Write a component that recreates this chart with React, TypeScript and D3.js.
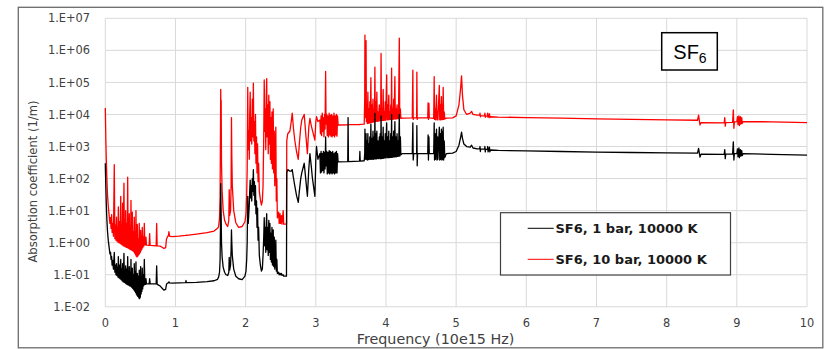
import React from 'react';
import * as d3 from 'd3';

// Axis ticks
const frequencyTicks = [0, 1, 2, 3, 4, 5, 6, 7, 8, 9, 10];
const absorptionTicks = [1e-2, 1e-1, 1e0, 1e1, 1e2, 1e3, 1e4, 1e5, 1e6, 1e7];
const absorptionTickLabels = ['1.E-02', '1.E-01', '1.E+00', '1.E+01', '1.E+02', '1.E+03', '1.E+04', '1.E+05', '1.E+06', '1.E+07'];

const seriesNames = ['SF6, 1 bar, 10000 K', 'SF6, 10 bar, 10000 K'];
const seriesColors = ['#000000', '#ff0000'];

// Spectrum rows: [frequency (10e15 Hz), absorption at 1 bar (1/m), absorption at 10 bar (1/m)]
const infraredDecay: number[][] = [
  [0.000, 300, 16000], [0.004, 120, 5000], [0.008, 50, 1500], [0.013, 20, 500],
  [0.018, 9, 200], [0.024, 4.5, 80], [0.032, 2.2, 30], [0.042, 1.2, 14],
  [0.055, 0.7, 7], [0.066, 0.45, 4],
  [0.075, 0.5, 6], [0.082, 0.3, 2.8], [0.090, 0.37, 7.5], [0.097, 0.2, 2.1],
  [0.105, 0.28, 4], [0.116, 0.15, 1.6], [0.128, 0.5, 270], [0.136, 0.12, 1.35],
  [0.145, 0.2, 3.5], [0.152, 0.1, 1.2], [0.160, 0.22, 6.3], [0.166, 0.095, 1.12],
  [0.173, 0.17, 3], [0.180, 0.085, 1.05], [0.186, 0.37, 13], [0.195, 0.08, 1.0],
  [0.203, 0.2, 4.5], [0.211, 0.075, 0.95], [0.220, 0.3, 28], [0.227, 0.07, 0.9],
  [0.234, 0.15, 3.5], [0.240, 0.065, 0.85], [0.247, 0.22, 17], [0.256, 0.06, 0.8],
  [0.266, 0.46, 72], [0.272, 0.058, 0.78], [0.279, 0.13, 3], [0.285, 0.055, 0.75],
  [0.290, 0.19, 10], [0.297, 0.052, 0.72], [0.305, 0.15, 4], [0.312, 0.05, 0.7],
  [0.319, 0.37, 110], [0.325, 0.048, 0.68], [0.331, 0.12, 3], [0.337, 0.047, 0.66],
  [0.342, 0.18, 8], [0.348, 0.045, 0.63], [0.354, 0.12, 2.5], [0.360, 0.044, 0.61],
  [0.366, 0.3, 21], [0.371, 0.042, 0.6], [0.376, 0.12, 3], [0.381, 0.04, 0.58],
  [0.385, 0.16, 9], [0.392, 0.037, 0.56], [0.399, 0.1, 2.2], [0.406, 0.034, 0.52],
  [0.413, 0.22, 6.3], [0.419, 0.031, 0.47], [0.425, 0.12, 2], [0.431, 0.028, 0.42],
  [0.437, 0.25, 10], [0.442, 0.025, 0.38], [0.447, 0.08, 1.4], [0.451, 0.023, 0.36],
  [0.456, 0.11, 3.7], [0.463, 0.021, 0.38], [0.470, 0.09, 1.3], [0.477, 0.019, 0.42],
  [0.484, 0.14, 4], [0.489, 0.018, 0.46], [0.494, 0.07, 1.5], [0.499, 0.02, 0.5],
  [0.504, 0.18, 2.4], [0.510, 0.025, 0.56], [0.516, 0.08, 1.6], [0.521, 0.03, 0.62],
  [0.527, 0.16, 3], [0.533, 0.036, 0.7], [0.540, 0.1, 1.5], [0.548, 0.045, 0.78],
  [0.556, 0.3, 4], [0.564, 0.05, 0.85],
];

const visibleWindow: number[][] = [
  [0.575, 0.05, 0.85], [0.580, 0.075, 1.5], [0.586, 0.052, 0.84], [0.625, 0.052, 0.83],
  [0.632, 0.075, 1.9], [0.639, 0.052, 0.82], [0.725, 0.052, 0.8], [0.732, 0.19, 4],
  [0.739, 0.05, 0.8], [0.780, 0.045, 0.78], [0.810, 0.038, 0.72], [0.835, 0.033, 0.66],
  [0.860, 0.035, 0.7], [0.872, 0.05, 1.3], [0.885, 0.055, 1.5], [0.900, 0.056, 1.7],
  [0.907, 0.06, 2.2], [0.915, 0.056, 1.6], [0.950, 0.055, 1.55], [1.050, 0.056, 1.6],
  [1.145, 0.057, 1.7], [1.150, 0.066, 1.72], [1.155, 0.057, 1.7], [1.300, 0.058, 1.85],
  [1.450, 0.061, 2.05], [1.550, 0.065, 2.3], [1.600, 0.072, 2.8],
];

const firstLines: number[][] = [
  [1.615, 0.085, 3.2], [1.628, 0.12, 6], [1.636, 0.3, 30], [1.641, 3, 2000],
  [1.645, 70, 60000], [1.648, 20, 8000], [1.651, 8, 28000], [1.656, 1.0, 300],
  [1.665, 0.35, 40], [1.680, 0.17, 10], [1.700, 0.12, 5], [1.720, 0.1, 3.8],
  [1.745, 0.095, 3.2], [1.760, 0.12, 5], [1.766, 0.35, 45], [1.772, 0.14, 7],
  [1.785, 0.2, 10], [1.793, 0.6, 60], [1.798, 2.5, 8000], [1.803, 1.0, 500],
  [1.810, 0.4, 60], [1.830, 0.15, 10], [1.860, 0.09, 4.2], [1.900, 0.075, 3.0],
  [1.950, 0.07, 3.2], [1.990, 0.09, 4.5], [2.005, 0.13, 8], [2.015, 0.3, 30],
];

const lineClusters: number[][] = [
  [2.022, 1, 200], [2.030, 28, 70000], [2.037, 4, 800], [2.045, 8, 3000],
  [2.052, 15, 400], [2.058, 40, 10000], [2.065, 90, 50000], [2.072, 25, 1500],
  [2.080, 60, 8000], [2.087, 20, 1200], [2.095, 100, 30000], [2.102, 40, 2000],
  [2.110, 190, 95000], [2.117, 30, 1500], [2.125, 80, 6000], [2.132, 15, 600],
  [2.140, 60, 10000], [2.147, 8, 300], [2.155, 20, 2000], [2.162, 3, 150],
  [2.170, 12, 1200], [2.177, 1.2, 80], [2.185, 3, 300], [2.195, 0.4, 40],
  [2.210, 0.2, 22], [2.225, 0.13, 15], [2.238, 0.15, 20], [2.248, 0.4, 60],
  [2.258, 1.5, 2000], [2.265, 6, 120000], [2.272, 0.8, 3000], [2.280, 3, 15000],
  [2.287, 0.5, 800], [2.294, 4, 40000], [2.300, 8, 130000], [2.307, 0.6, 2000],
  [2.315, 3, 20000], [2.322, 0.4, 600], [2.330, 5, 40000], [2.337, 0.5, 1200],
  [2.346, 4, 25000], [2.353, 0.3, 400], [2.360, 2, 8000], [2.367, 0.25, 300],
  [2.375, 3, 12000], [2.382, 0.2, 200], [2.393, 2.5, 15000], [2.400, 0.18, 150],
  [2.408, 1.5, 3000], [2.415, 0.15, 60], [2.430, 1.2, 4000], [2.437, 0.13, 20],
  [2.445, 0.3, 100], [2.452, 0.11, 6], [2.470, 0.12, 9], [2.478, 0.1, 4],
  [2.490, 0.11, 8], [2.497, 0.1, 4], [2.510, 0.11, 7], [2.518, 0.095, 3.8],
  [2.535, 0.1, 10], [2.542, 0.09, 3.8], [2.582, 0.09, 3.8],
];

const continuumEdge: number[][] = [
  [2.586, 150, 1500], [2.600, 190, 2500], [2.630, 170, 3000], [2.650, 170, 6000],
  [2.664, 190, 11000], [2.680, 110, 4000], [2.700, 60, 1600], [2.725, 30, 700],
  [2.750, 18, 400], [2.765, 40, 1200], [2.785, 100, 4000], [2.800, 150, 6700],
  [2.835, 300, 10000], [2.860, 80, 2000], [2.880, 28, 600], [2.900, 200, 4000],
  [2.916, 600, 7500], [2.935, 250, 4500], [2.950, 110, 3300], [2.987, 28, 1600],
  [3.000, 400, 6000], [3.010, 1000, 8500], [3.030, 400, 6000], [3.058, 600, 6700],
  [3.066, 150, 2500], [3.075, 700, 9000], [3.083, 160, 2200], [3.092, 600, 11000],
  [3.100, 180, 3000], [3.108, 700, 8000], [3.116, 150, 2000], [3.124, 650, 10000],
  [3.132, 200, 3500], [3.140, 2000, 220000], [3.146, 250, 5000], [3.155, 700, 10000],
  [3.163, 140, 2200], [3.172, 650, 9000], [3.180, 150, 2000], [3.190, 750, 11000],
  [3.198, 140, 2300], [3.207, 700, 9500], [3.215, 150, 2100], [3.224, 650, 10000],
  [3.232, 140, 2000], [3.241, 700, 9000], [3.250, 150, 2200], [3.259, 600, 11000],
  [3.267, 140, 2000], [3.276, 650, 9000], [3.285, 150, 2300], [3.294, 700, 10000],
  [3.302, 150, 2100], [3.310, 600, 9000], [3.318, 330, 4700],
];

const strongLines: number[][] = [
  [3.320, 330, 4700], [3.455, 340, 4750], [3.460, 8000, 4800], [3.465, 340, 4800],
  [3.623, 350, 4850], [3.628, 700, 4900], [3.633, 350, 4900], [3.690, 360, 5000],
  [3.697, 600, 30000], [3.700, 3500, 3000000], [3.704, 400, 8000], [3.710, 1500, 200000],
  [3.716, 2500, 2000000], [3.721, 400, 6000], [3.728, 1500, 20000], [3.734, 380, 5200],
  [3.742, 2500, 50000], [3.748, 390, 5300], [3.756, 1200, 15000], [3.762, 400, 5400],
  [3.770, 2000, 25000], [3.776, 400, 5500], [3.785, 5000, 140000], [3.790, 400, 5600],
  [3.798, 1800, 20000], [3.804, 400, 5700], [3.815, 3000, 30000], [3.821, 400, 5800],
  [3.830, 2000, 15000], [3.836, 410, 5900], [3.842, 11000, 300000], [3.848, 410, 6000],
  [3.856, 2500, 25000], [3.862, 410, 6100], [3.870, 3000, 50000], [3.876, 420, 6100],
  [3.885, 1500, 12000], [3.891, 420, 6200], [3.905, 2000, 20000], [3.911, 420, 6300],
  [3.918, 2500, 15000], [3.924, 420, 6400], [3.930, 9000, 800000], [3.936, 420, 6400],
  [3.945, 2000, 15000], [3.951, 430, 6500], [3.960, 4000, 60000], [3.966, 430, 6600],
  [3.975, 1500, 12000], [3.981, 440, 6600], [3.990, 2500, 25000], [3.996, 440, 6700],
  [4.010, 5500, 170000], [4.016, 450, 6800], [4.025, 2000, 20000], [4.031, 450, 6800],
  [4.040, 3000, 40000], [4.046, 450, 6900], [4.055, 1500, 12000], [4.061, 460, 7000],
  [4.068, 2500, 20000], [4.074, 460, 7000], [4.080, 10000, 280000], [4.086, 460, 7100],
  [4.095, 2000, 15000], [4.101, 470, 7100], [4.110, 3000, 30000], [4.116, 470, 7200],
  [4.127, 6000, 150000], [4.133, 480, 7200], [4.142, 2000, 15000], [4.148, 480, 7300],
  [4.158, 2500, 20000], [4.164, 490, 7400], [4.172, 1500, 12000], [4.178, 500, 7400],
  [4.190, 10000, 2400000], [4.196, 500, 7500], [4.205, 2000, 15000], [4.212, 550, 7600],
];

const vacuumUltraviolet: number[][] = [
  [4.230, 600, 7700], [4.375, 600, 7800], [4.383, 5500, 240000], [4.388, 380, 7000],
  [4.395, 600, 7800], [4.437, 600, 7800], [4.440, 4500, 210000], [4.445, 250, 7000],
  [4.450, 600, 7800], [4.595, 600, 7800], [4.600, 2300, 23000], [4.605, 380, 7000],
  [4.612, 2000, 22000], [4.617, 600, 7800], [4.680, 600, 7600], [4.687, 5500, 150000],
  [4.692, 380, 7000], [4.700, 2500, 15000], [4.706, 400, 6800], [4.720, 3500, 40000],
  [4.727, 380, 6800], [4.735, 2000, 12000], [4.740, 400, 6800], [4.760, 4000, 80000],
  [4.766, 380, 6800], [4.775, 2500, 20000], [4.779, 400, 6800], [4.790, 3500, 36000],
  [4.797, 380, 6800], [4.806, 3000, 20000], [4.810, 400, 7000], [4.815, 4000, 70000],
  [4.822, 380, 7000], [4.830, 1500, 12000], [4.838, 450, 7200], [4.860, 600, 7700],
  [4.950, 620, 7800], [5.000, 700, 9000], [5.040, 1100, 20000], [5.065, 2000, 70000],
  [5.077, 2800, 160000], [5.090, 1800, 40000], [5.110, 1200, 14000], [5.150, 1000, 10000],
  [5.200, 950, 11000], [5.220, 1100, 12500], [5.240, 900, 10000], [5.300, 850, 9500],
  [5.335, 850, 9500], [5.340, 1000, 11000], [5.345, 700, 8500], [5.350, 850, 9200],
  [5.405, 830, 9000], [5.410, 1000, 11000], [5.415, 680, 8200], [5.420, 820, 9000],
  [5.445, 810, 8900], [5.450, 1000, 11000], [5.455, 680, 8000], [5.465, 800, 9000],
  [5.475, 950, 10500], [5.480, 680, 8000], [5.490, 780, 8500], [5.600, 760, 8300],
  [6.000, 730, 8000], [6.500, 700, 7700], [7.000, 670, 7300], [7.500, 650, 7000],
  [8.000, 630, 6800], [8.440, 620, 6600], [8.455, 880, 9600], [8.475, 470, 4700],
  [8.490, 580, 5600], [8.820, 570, 5500], [8.828, 800, 8000], [8.835, 420, 4300],
  [8.842, 580, 5600], [8.940, 580, 5700], [8.950, 1400, 14000], [8.958, 380, 3700],
  [8.965, 600, 5900], [9.000, 600, 6000], [9.010, 850, 8500], [9.016, 480, 4800],
  [9.030, 900, 9000], [9.036, 450, 4500], [9.050, 800, 8500], [9.056, 500, 5000],
  [9.070, 750, 8000], [9.076, 520, 5200], [9.090, 600, 6000], [9.500, 570, 5900],
  [10.000, 540, 5600],
];

const spectrum = [
  ...infraredDecay,
  ...visibleWindow,
  ...firstLines,
  ...lineClusters,
  ...continuumEdge,
  ...strongLines,
  ...vacuumUltraviolet,
];

const WIDTH = 824;
const HEIGHT = 349;
const PLOT_LEFT = 105.3;
const PLOT_RIGHT = 807;
const PLOT_TOP = 18.3;
const PLOT_BOTTOM = 306.8;

const TICK_FONT = '"DejaVu Sans", Verdana, sans-serif';

export default function App() {
  const x = d3.scaleLinear().domain([0, 10]).range([PLOT_LEFT, PLOT_RIGHT]);
  const y = d3.scaleLog().domain([1e-2, 1e7]).range([PLOT_BOTTOM, PLOT_TOP]);

  const series = [1, 2].map((col) => spectrum.map((row) => [row[0], row[col]] as [number, number]));
  const line = d3
    .line<[number, number]>()
    .x((d) => x(d[0]))
    .y((d) => y(d[1]));

  // draw the 10 bar curve first so the 1 bar curve sits on top
  const drawOrder = [1, 0];

  return (
    <svg
      width={WIDTH}
      height={HEIGHT}
      style={{ position: 'absolute', left: 0, top: 0, background: '#fff' }}
    >
      <rect x={0} y={0} width={WIDTH} height={HEIGHT} fill="#fff" />
      {/* chart frame */}
      <rect x={18.3} y={7.3} width={804.5} height={340.5} fill="none" stroke="#6b6b6b" strokeWidth={1.3} />

      {/* gridlines */}
      {absorptionTicks.map((v) => (
        <line key={'h' + v} x1={PLOT_LEFT} x2={PLOT_RIGHT} y1={y(v)} y2={y(v)} stroke="#d9d9d9" strokeWidth={1} />
      ))}
      {frequencyTicks.map((v) => (
        <line key={'v' + v} x1={x(v)} x2={x(v)} y1={PLOT_TOP} y2={PLOT_BOTTOM} stroke="#d9d9d9" strokeWidth={1} />
      ))}

      {/* tick labels */}
      {absorptionTicks.map((v, i) => (
        <text
          key={'yl' + v}
          x={90}
          y={y(v)}
          dy="0.36em"
          textAnchor="end"
          fontFamily={TICK_FONT}
          fontSize={11.4}
          fill="#404040"
        >
          {absorptionTickLabels[i]}
        </text>
      ))}
      {frequencyTicks.map((v) => (
        <text
          key={'xl' + v}
          x={x(v)}
          y={326.7}
          textAnchor="middle"
          fontFamily={TICK_FONT}
          fontSize={11.4}
          fill="#404040"
        >
          {v}
        </text>
      ))}

      {/* spectra */}
      {drawOrder.map((i) => (
        <path
          key={'s' + i}
          d={line(series[i]) || ''}
          fill="none"
          stroke={seriesColors[i]}
          strokeWidth={1.3}
          strokeLinejoin="round"
        />
      ))}

      {/* axis titles */}
      <text
        x={435.5}
        y={343.5}
        textAnchor="middle"
        fontFamily={TICK_FONT}
        fontSize={14.3}
        fill="#404040"
      >
        Frequency (10e15 Hz)
      </text>
      <text
        transform="translate(36.5,181.5) rotate(-90)"
        textAnchor="middle"
        fontFamily={TICK_FONT}
        fontSize={11.6}
        fill="#404040"
      >
        Absorption coefficient (1/m)
      </text>

      {/* legend */}
      <rect x={500.5} y={212.7} width={230} height={62.3} fill="#fff" stroke="#404040" strokeWidth={1.2} />
      {seriesNames.map((name, i) => {
        const ly = 228.3 + i * 31;
        return (
          <g key={'lg' + i}>
            <line x1={527.7} x2={553.7} y1={ly} y2={ly} stroke={seriesColors[i]} strokeWidth={1} />
            <text
              x={555.5}
              y={ly}
              dy="0.36em"
              fontFamily={TICK_FONT}
              fontWeight="bold"
              fontSize={13}
              fill="#1a1a1a"
            >
              {name}
            </text>
          </g>
        );
      })}

      {/* gas label */}
      <rect x={661.7} y={32.7} width={55.6} height={37.3} fill="#fff" stroke="#000" strokeWidth={1.5} />
      <text x={673.3} y={59.3} fontFamily='"Liberation Sans", Arial, sans-serif' fontSize={20} fill="#000">
        SF
        <tspan fontSize={14} dy={4}>
          6
        </tspan>
      </text>
    </svg>
  );
}
